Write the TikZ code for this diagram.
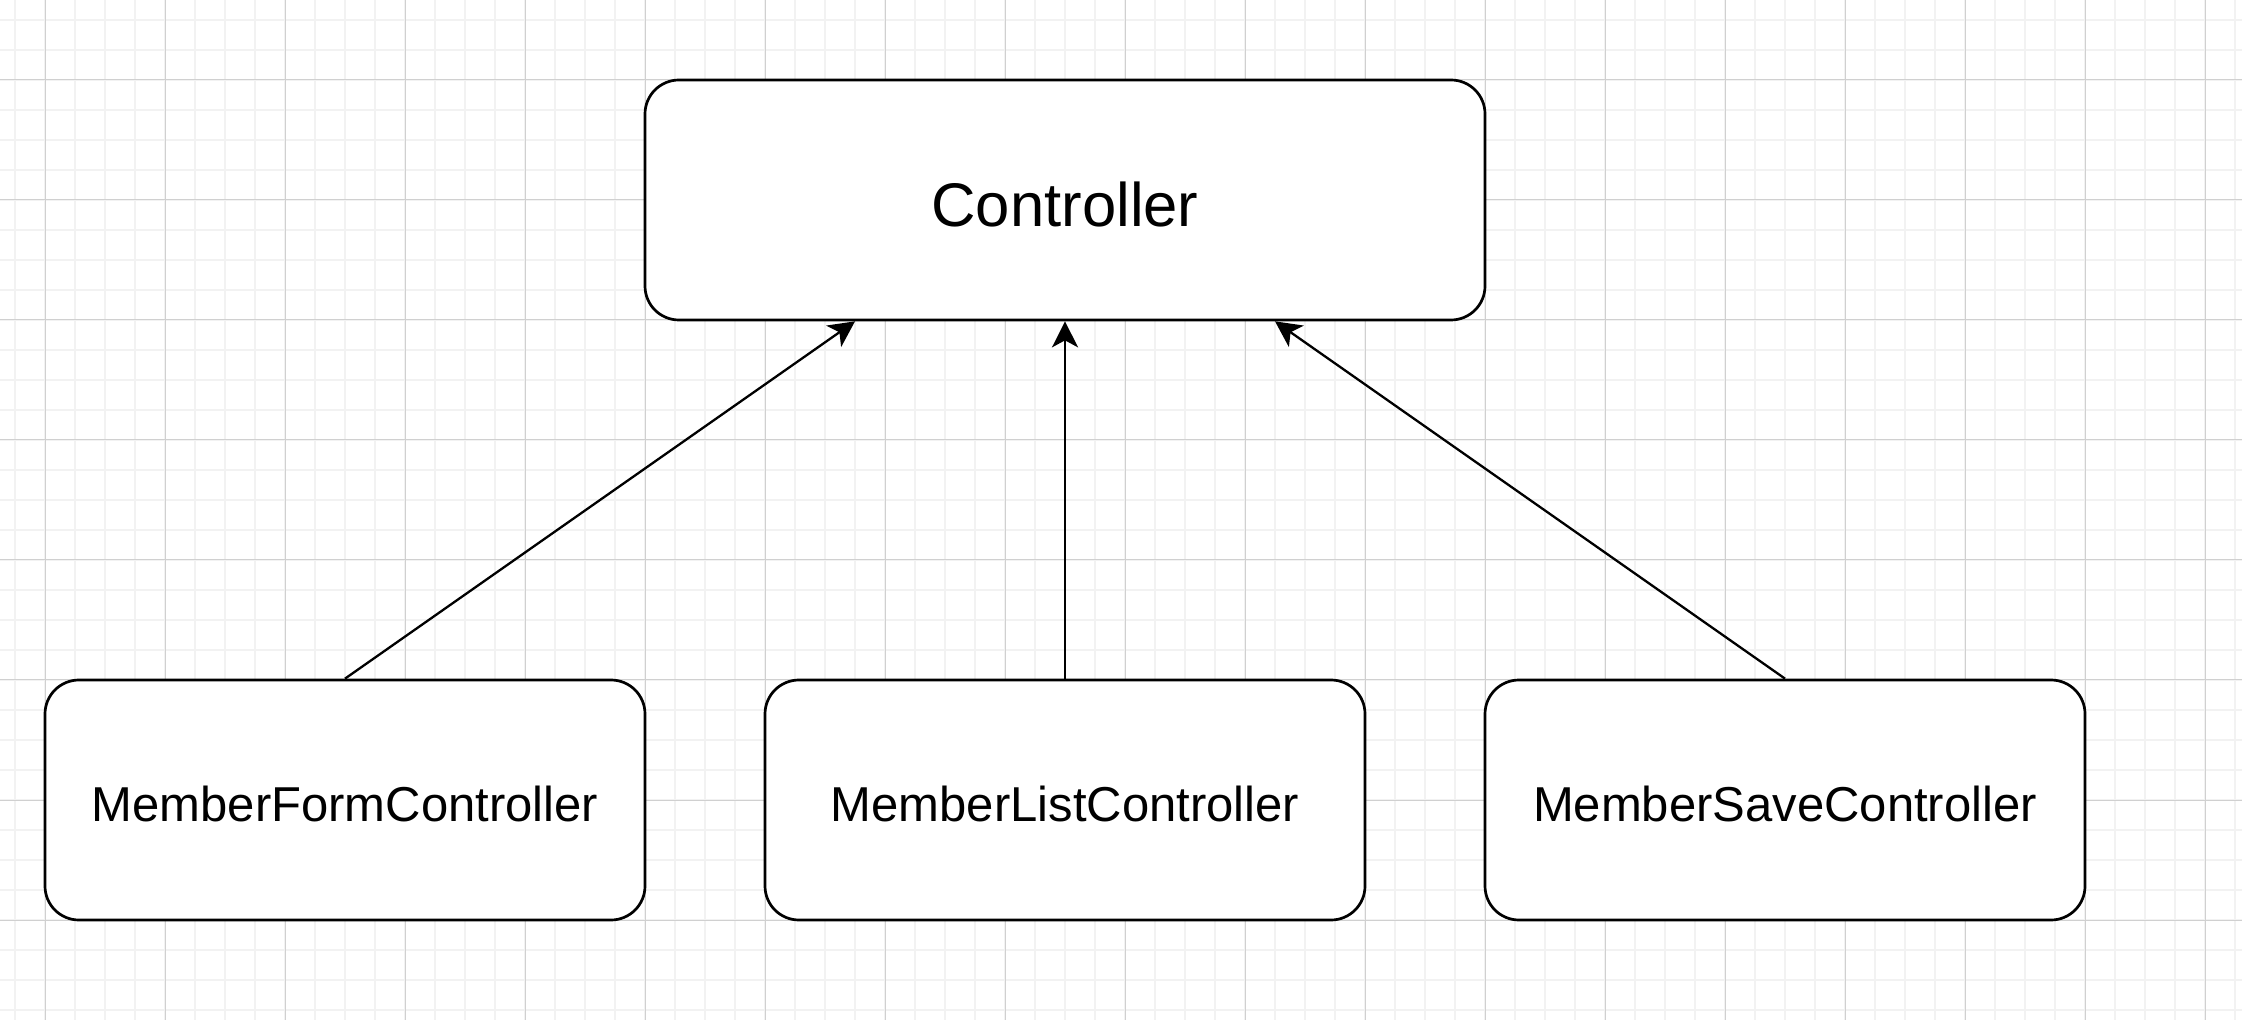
\documentclass[tikz,border=0pt]{standalone}
\usepackage{fontspec}
\setmainfont{Liberation Sans}
\usetikzlibrary{arrows.meta}
\definecolor{minorgrid}{HTML}{F2F2F2}
\definecolor{majorgrid}{HTML}{D0D0D0}
\newcommand{\lowertext}[1]{\raisebox{-2pt}[\height][0pt]{#1}}
\begin{document}
\begin{tikzpicture}[x=0.5pt,y=-0.5pt,
  box/.style={draw=black, fill=white, line width=1.35pt, rounded corners=17pt,
    minimum width=300pt, minimum height=120pt, inner sep=0pt, font=\fontsize{24.5pt}{28pt}\selectfont},
  topbox/.style={box, minimum width=420pt, font=\fontsize{30.8pt}{36pt}\selectfont},
  arr/.style={draw=black, line width=1.15pt, -{Stealth[length=13pt, width=13pt, inset=3.5pt]}}]
\useasboundingbox (0,0) rectangle (2242,1020);
\fill[white] (0,0) rectangle (2242,1020);
% minor grid
\foreach \k in {0,...,74} {\draw[minorgrid, line width=0.8pt] ({15+30*\k},0) -- ({15+30*\k},1020);}
\foreach \k in {0,...,33} {\draw[minorgrid, line width=0.8pt] (0,{20+30*\k}) -- (2242,{20+30*\k});}
% major grid
\foreach \k in {0,...,18} {\draw[majorgrid, line width=0.5pt] ({45+120*\k},0) -- ({45+120*\k},1020);}
\foreach \k in {0,...,7} {\draw[majorgrid, line width=0.5pt] (0,{80+120*\k}) -- (2242,{80+120*\k});}
% nodes
\node[topbox] (c) at (1065,200) {\lowertext{Controller}};
\node[box] (f) at (345,800) {\lowertext{MemberFormController}};
\node[box] (l) at (1065,800) {\lowertext{MemberListController}};
\node[box] (s) at (1785,800) {\lowertext{MemberSaveController}};
% connectors
\draw[arr] (f.north) -- ([xshift=-105pt]c.south);
\draw[arr] (l.north) -- (c.south);
\draw[arr] (s.north) -- ([xshift=105pt]c.south);
\end{tikzpicture}
\end{document}
